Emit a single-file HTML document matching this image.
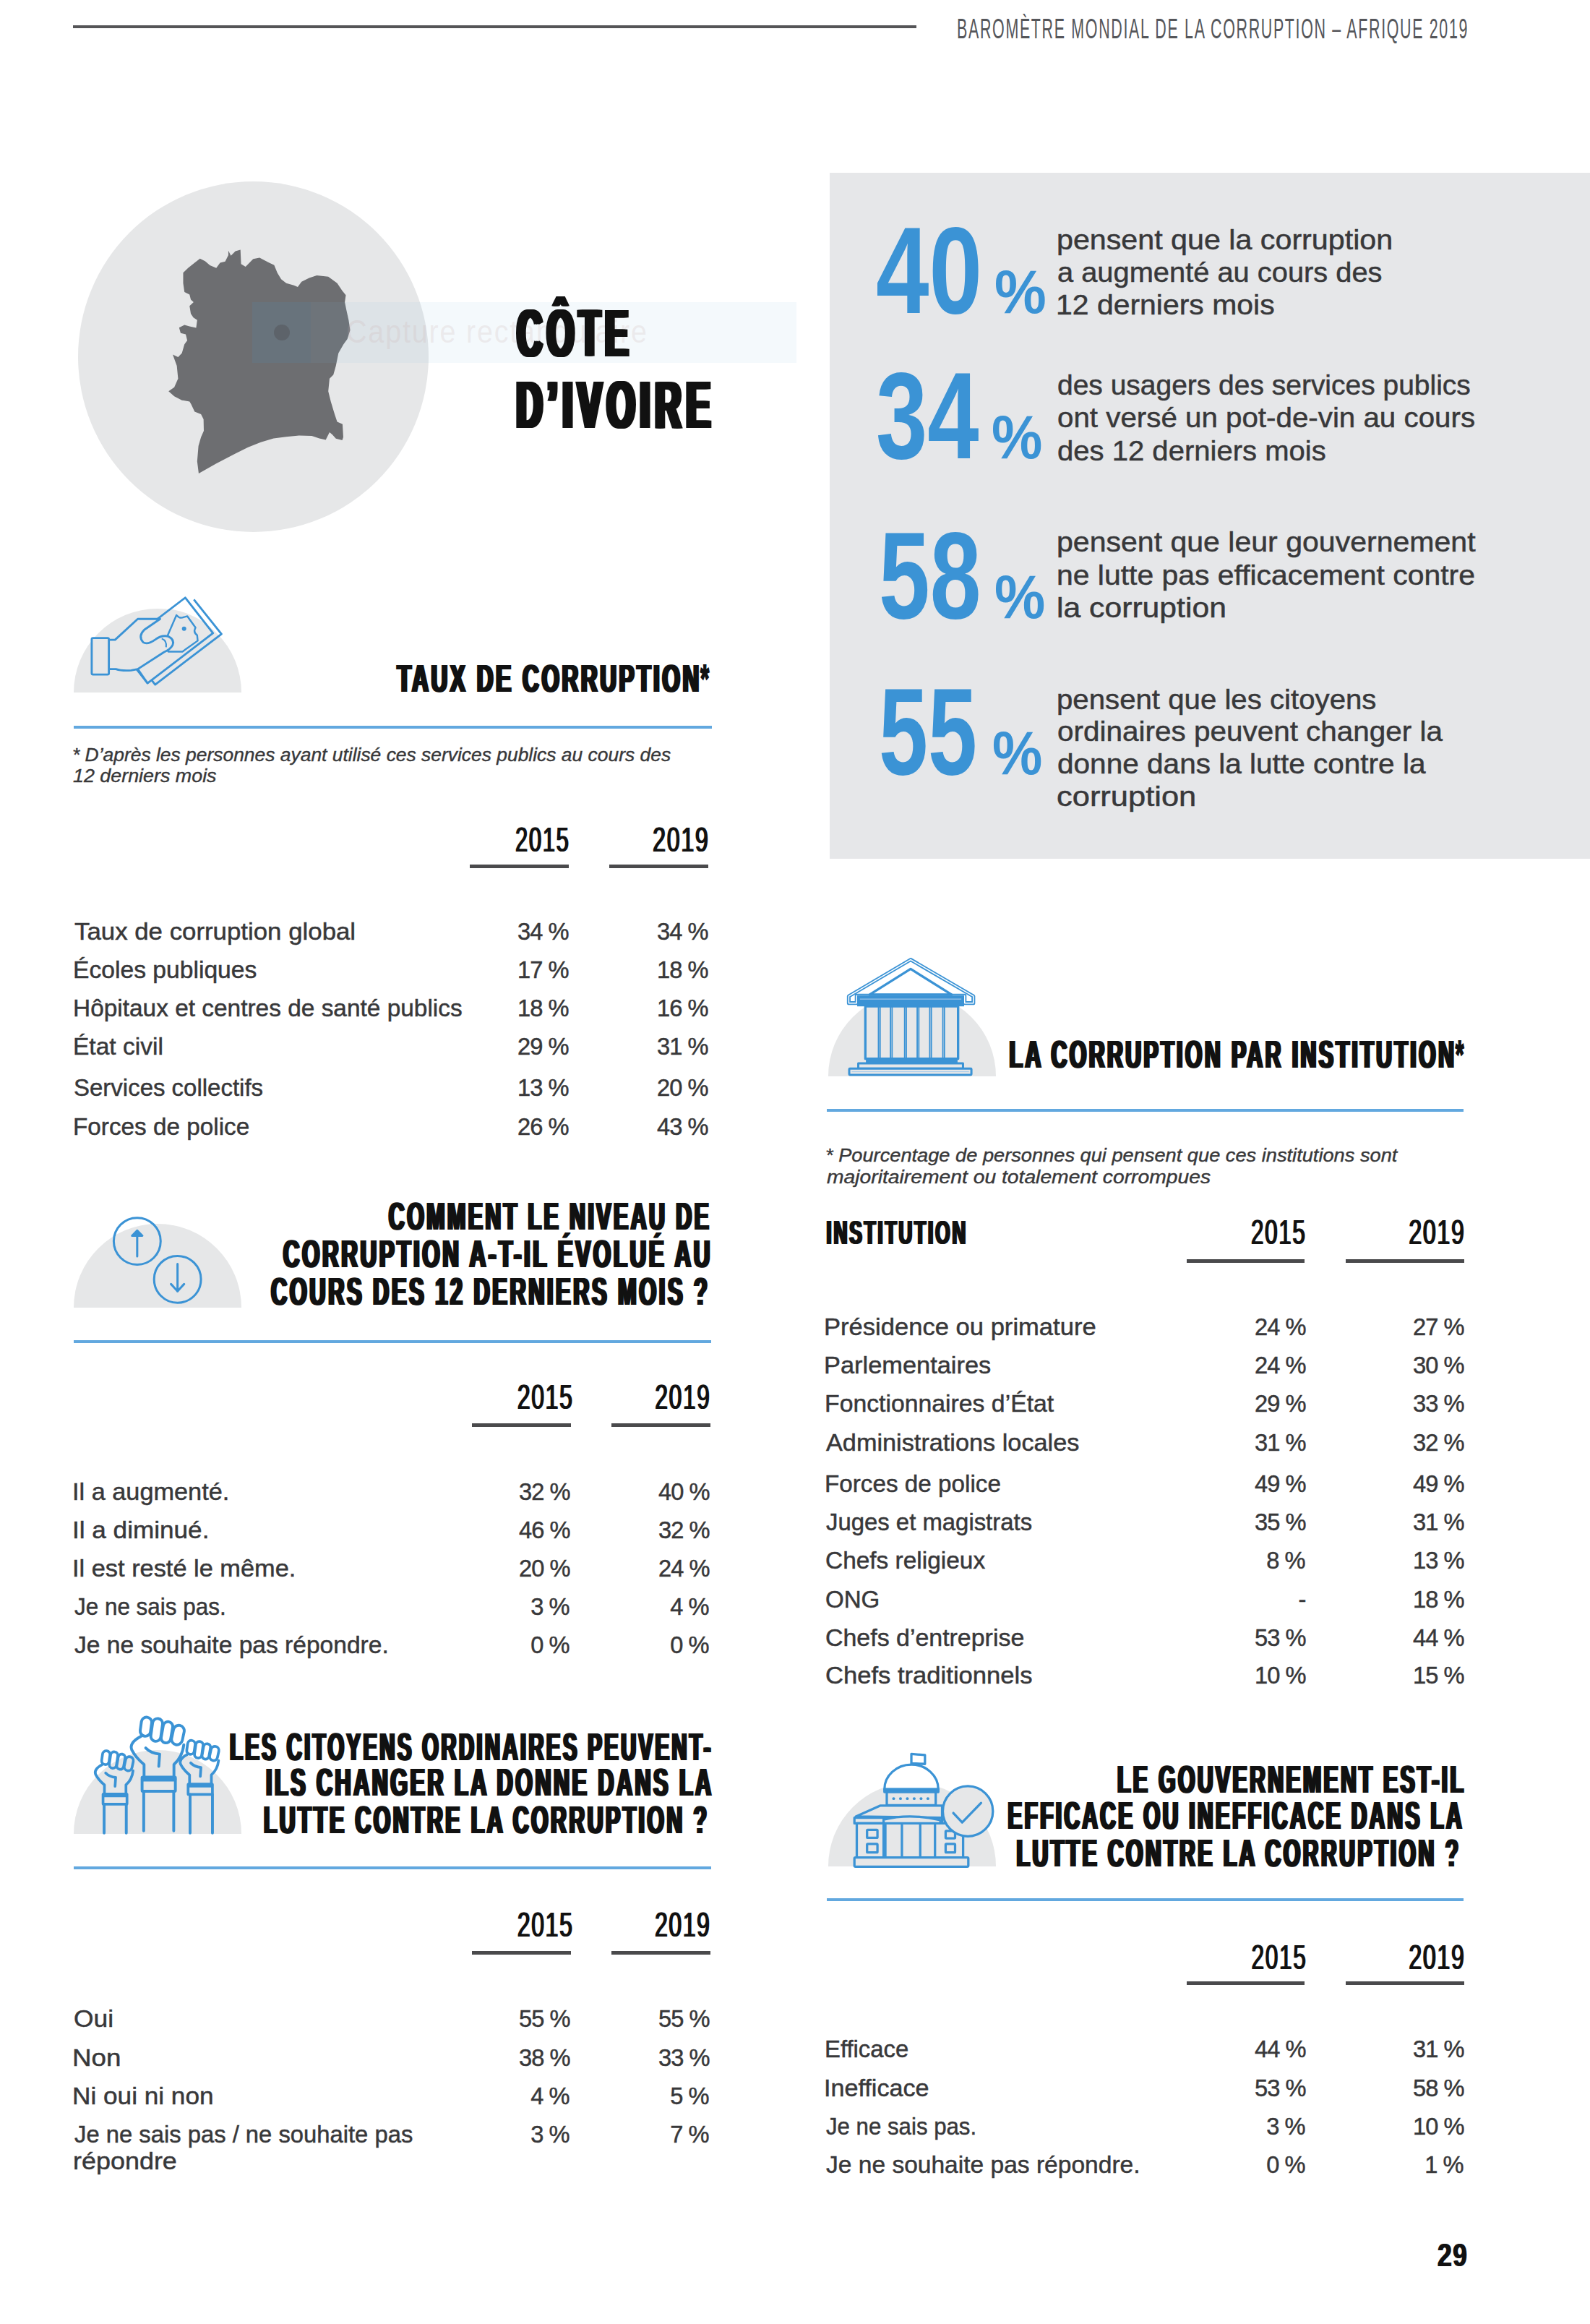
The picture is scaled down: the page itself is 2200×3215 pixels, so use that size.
<!DOCTYPE html>
<html><head><meta charset="utf-8"><style>
*{margin:0;padding:0;box-sizing:border-box}
html,body{width:2200px;height:3215px;background:#fff;overflow:hidden;position:relative}
.t{position:absolute;white-space:nowrap;line-height:0;font-family:"Liberation Sans",sans-serif}
.r{position:absolute}
.hb{font-weight:bold}
.hr{font-weight:normal}
.cond{font-weight:normal}
.body{font-weight:normal;-webkit-text-stroke:0.5px currentColor}
.ast{text-shadow:none;letter-spacing:0;-webkit-text-stroke:2px currentColor}
.it{font-style:italic;-webkit-text-stroke:0.4px currentColor}
svg{position:absolute;overflow:visible}
</style></head>
<body>
<div class="r" style="left:101px;top:34.5px;width:1167px;height:4px;background:#555557;"></div>
<div id="hdr" class="t cond" style="top:39.5px;font-size:39px;left:1324.0px;transform-origin:0 0;transform:scaleX(0.5499);color:#55565a;letter-spacing:3px;">BAROMÈTRE MONDIAL DE LA CORRUPTION – AFRIQUE 2019</div>
<div class="r" style="left:108px;top:251px;width:485px;height:485px;border-radius:50%;background:#e6e7e8"></div>
<svg style="left:220px;top:330px" width="280" height="330" viewBox="0 0 1590 1874"><path fill="#6d6e71" d="M545,95 L565,135 L600,100 L640,88 L645,200 L680,222 L740,160 L790,150 L860,188 L905,208 L930,270 L960,320 L1000,350 L1060,368 L1090,380 L1120,340 L1180,310 L1240,290 L1330,300 L1400,350 L1440,410 L1468,445 L1460,500 L1472,560 L1490,640 L1502,720 L1480,790 L1450,830 L1410,900 L1390,1000 L1370,1070 L1340,1100 L1330,1200 L1350,1280 L1380,1380 L1400,1440 L1442,1458 L1448,1560 L1440,1585 L1390,1572 L1362,1540 L1340,1522 L1310,1582 L1260,1570 L1200,1550 L1100,1548 L1000,1558 L900,1570 L800,1600 L700,1640 L600,1690 L450,1768 L312,1845 L300,1750 L310,1630 L330,1560 L352,1510 L350,1420 L330,1380 L280,1360 L252,1300 L240,1280 L180,1270 L120,1240 L75,1200 L120,1168 L150,1100 L140,1000 L108,912 L150,932 L180,900 L200,830 L222,800 L210,752 L170,742 L158,700 L200,678 L240,690 L292,702 L300,640 L270,620 L250,590 L240,530 L272,500 L250,480 L240,440 L200,420 L190,350 L190,268 L230,230 L280,190 L322,158 L362,178 L400,210 L450,232 L480,190 L520,180 L545,130 Z"/></svg>
<div class="r" style="left:349px;top:418px;width:753px;height:84px;background:rgba(133,182,218,0.085)"></div>
<div class="r" style="left:349px;top:418px;width:81px;height:84px;background:rgba(70,105,140,0.13)"></div>
<div class="r" style="left:379px;top:448.5px;width:22px;height:22px;border-radius:50%;background:rgba(80,80,85,0.45)"></div>
<div class="t" style="left:479px;top:459px;font-size:45px;letter-spacing:2px;transform:scaleX(0.88);transform-origin:0 0;color:rgba(200,170,170,0.2)">Capture rectangulaire</div>

<div id="t1" class="t hb" style="top:460.8px;font-size:93px;left:712.2px;transform-origin:0 0;transform:scaleX(0.5178);color:#111;text-shadow:3.2px 0 0 currentColor,6.5px 0 0 currentColor,9.8px 0 0 currentColor,13.0px 0 0 currentColor;letter-spacing:13.0px;">CÔTE</div>
<div id="t2" class="t hb" style="top:559.8px;font-size:93px;left:711.2px;transform-origin:0 0;transform:scaleX(0.5374);color:#111;text-shadow:3.2px 0 0 currentColor,6.5px 0 0 currentColor,9.8px 0 0 currentColor,13.0px 0 0 currentColor;letter-spacing:13.0px;">D’IVOIRE</div>
<div class="r" style="left:1148px;top:239px;width:1052px;height:949px;background:#e6e7e9;"></div>
<div id="n0" class="t hb" style="top:374.0px;font-size:171px;left:1211.9px;transform-origin:0 0;transform:scaleX(0.7722);color:#3b93d5;">40</div>
<div id="p0" class="t hb" style="top:403.8px;font-size:85px;left:1376.0px;transform-origin:0 0;transform:scaleX(0.9490);color:#3b93d5;">%</div>
<div id="s0_0" class="t body" style="top:332.3px;font-size:38px;left:1462.4px;transform-origin:0 0;transform:scaleX(1.0846);color:#38383a;">pensent que la corruption</div>
<div id="s0_1" class="t body" style="top:377.0px;font-size:38px;left:1463.4px;transform-origin:0 0;transform:scaleX(1.0482);color:#38383a;">a augmenté au cours des</div>
<div id="s0_2" class="t body" style="top:422.3px;font-size:38px;left:1461.4px;transform-origin:0 0;transform:scaleX(1.0774);color:#38383a;">12 derniers mois</div>
<div id="n1" class="t hb" style="top:574.7px;font-size:171px;left:1211.7px;transform-origin:0 0;transform:scaleX(0.7490);color:#3b93d5;">34</div>
<div id="p1" class="t hb" style="top:604.5px;font-size:85px;left:1372.0px;transform-origin:0 0;transform:scaleX(0.9311);color:#3b93d5;">%</div>
<div id="s1_0" class="t body" style="top:533.0px;font-size:38px;left:1463.4px;transform-origin:0 0;transform:scaleX(1.0254);color:#38383a;">des usagers des services publics</div>
<div id="s1_1" class="t body" style="top:578.3px;font-size:38px;left:1463.4px;transform-origin:0 0;transform:scaleX(1.0607);color:#38383a;">ont versé un pot-de-vin au cours</div>
<div id="s1_2" class="t body" style="top:623.5px;font-size:38px;left:1463.4px;transform-origin:0 0;transform:scaleX(1.0539);color:#38383a;">des 12 derniers mois</div>
<div id="n2" class="t hb" style="top:795.7px;font-size:171px;left:1215.6px;transform-origin:0 0;transform:scaleX(0.7428);color:#3b93d5;">58</div>
<div id="p2" class="t hb" style="top:825.5px;font-size:85px;left:1376.2px;transform-origin:0 0;transform:scaleX(0.9299);color:#3b93d5;">%</div>
<div id="s2_0" class="t body" style="top:750.2px;font-size:38px;left:1462.4px;transform-origin:0 0;transform:scaleX(1.0800);color:#38383a;">pensent que leur gouvernement</div>
<div id="s2_1" class="t body" style="top:795.5px;font-size:38px;left:1462.4px;transform-origin:0 0;transform:scaleX(1.0762);color:#38383a;">ne lutte pas efficacement contre</div>
<div id="s2_2" class="t body" style="top:840.8px;font-size:38px;left:1461.5px;transform-origin:0 0;transform:scaleX(1.1235);color:#38383a;">la corruption</div>
<div id="n3" class="t hb" style="top:1012.3px;font-size:171px;left:1215.6px;transform-origin:0 0;transform:scaleX(0.7145);color:#3b93d5;">55</div>
<div id="p3" class="t hb" style="top:1042.1px;font-size:85px;left:1373.1px;transform-origin:0 0;transform:scaleX(0.9171);color:#3b93d5;">%</div>
<div id="s3_0" class="t body" style="top:967.6px;font-size:38px;left:1462.4px;transform-origin:0 0;transform:scaleX(1.0578);color:#38383a;">pensent que les citoyens</div>
<div id="s3_1" class="t body" style="top:1012.3px;font-size:38px;left:1463.4px;transform-origin:0 0;transform:scaleX(1.0647);color:#38383a;">ordinaires peuvent changer la</div>
<div id="s3_2" class="t body" style="top:1056.8px;font-size:38px;left:1463.4px;transform-origin:0 0;transform:scaleX(1.0671);color:#38383a;">donne dans la lutte contre la</div>
<div id="s3_3" class="t body" style="top:1102.3px;font-size:38px;left:1462.4px;transform-origin:0 0;transform:scaleX(1.1437);color:#38383a;">corruption</div>
<div class="r" style="left:102px;top:842px;width:232px;height:116px;border-radius:116px 116px 0 0;background:#e6e7e8"></div>
<svg style="left:100px;top:820px" width="240" height="140" viewBox="0 0 1590 928"><defs><clipPath id="bill1"><path d="M1036,45 L1290,370 L690,830 L435,505 Z"/></clipPath></defs><g fill="none" stroke="#3b93d5" stroke-width="19" stroke-linejoin="round">
<path d="M1115,62 L1368,378 L760,842 L505,520"/>
<path d="M1036,45 L1290,370 L690,830 L435,505 Z" fill="#fff" stroke="none"/>
<g clip-path="url(#bill1)"><circle cx="775" cy="907" r="768" fill="#e6e7e8" stroke="none"/></g>
<path d="M1036,45 L1290,370 L690,830 L435,505 Z"/>
<path d="M955,205 Q985,240 1020,225 L1055,215 L1130,320 Q1105,360 1145,390 L1150,440 L1010,540 L880,540 L840,470 Z" stroke-width="16"/>
<circle cx="1025" cy="330" r="20" fill="#3b93d5" stroke="none"/>
<path d="M335,432 L392,432 L600,240 L805,240 L660,340 Q600,400 650,455 Q690,480 760,430 Q820,385 880,400 Q940,430 920,480 Q900,520 840,545 L600,700 L540,712 Q450,718 400,700 L335,700" fill="#e6e7e8"/>
<path d="M820,420 Q870,440 860,500" stroke-width="14"/>
<rect x="178" y="415" width="157" height="335" rx="12" fill="#e6e7e8"/>
<path d="M600,700 L690,830" />
</g></svg>
<div id="h1_0" class="t hb" style="top:939.0px;font-size:53px;right:1218.7px;transform-origin:100% 0;transform:scaleX(0.5952);color:#111;text-shadow:3.0px 0 0 currentColor,6.0px 0 0 currentColor;letter-spacing:6.0px;">TAUX DE CORRUPTION<span class="ast">*</span></div>
<div class="r" style="left:102px;top:1003.7px;width:883px;height:4px;background:#62a8df;"></div>
<div id="fn1a" class="t it" style="top:1043.5px;font-size:26px;left:100.0px;transform-origin:0 0;transform:scaleX(1.0160);color:#38383a;">* D’après les personnes ayant utilisé ces services publics au cours des</div>
<div id="fn1b" class="t it" style="top:1073.0px;font-size:26px;left:101.0px;transform-origin:0 0;transform:scaleX(1.0330);color:#38383a;">12 derniers mois</div>
<div id="s1y15" class="t hr" style="top:1161.6px;font-size:47.5px;right:1411.9px;transform-origin:100% 0;transform:scaleX(0.6525);color:#111;text-shadow:2.5px 0 0 currentColor;letter-spacing:2.5px;">2015</div>
<div id="s1y19" class="t hr" style="top:1161.6px;font-size:47.5px;right:1218.9px;transform-origin:100% 0;transform:scaleX(0.6776);color:#111;text-shadow:2.5px 0 0 currentColor;letter-spacing:2.5px;">2019</div>
<div class="r" style="left:650px;top:1196.0px;width:136.79999999999995px;height:5px;background:#4a4a4c;"></div>
<div class="r" style="left:843.4px;top:1196.0px;width:136.80000000000007px;height:5px;background:#4a4a4c;"></div>
<div id="s1r0" class="t body" style="top:1287.8px;font-size:34px;left:102.5px;transform-origin:0 0;transform:scaleX(1.0242);color:#38383a;">Taux de corruption global</div>
<div id="s1a0" class="t body" style="top:1287.8px;font-size:34px;right:1414.0px;transform-origin:100% 0;transform:scaleX(0.9600);color:#38383a;letter-spacing:-1px">34 %</div>
<div id="s1b0" class="t body" style="top:1287.8px;font-size:34px;right:1220.4px;transform-origin:100% 0;transform:scaleX(0.9600);color:#38383a;letter-spacing:-1px">34 %</div>
<div id="s1r1" class="t body" style="top:1341.0px;font-size:34px;left:100.5px;transform-origin:0 0;transform:scaleX(0.9894);color:#38383a;">Écoles publiques</div>
<div id="s1a1" class="t body" style="top:1341.0px;font-size:34px;right:1414.0px;transform-origin:100% 0;transform:scaleX(0.9600);color:#38383a;letter-spacing:-1px">17 %</div>
<div id="s1b1" class="t body" style="top:1341.0px;font-size:34px;right:1220.4px;transform-origin:100% 0;transform:scaleX(0.9600);color:#38383a;letter-spacing:-1px">18 %</div>
<div id="s1r2" class="t body" style="top:1394.1px;font-size:34px;left:100.5px;transform-origin:0 0;transform:scaleX(0.9828);color:#38383a;">Hôpitaux et centres de santé publics</div>
<div id="s1a2" class="t body" style="top:1394.1px;font-size:34px;right:1414.0px;transform-origin:100% 0;transform:scaleX(0.9600);color:#38383a;letter-spacing:-1px">18 %</div>
<div id="s1b2" class="t body" style="top:1394.1px;font-size:34px;right:1220.4px;transform-origin:100% 0;transform:scaleX(0.9600);color:#38383a;letter-spacing:-1px">16 %</div>
<div id="s1r3" class="t body" style="top:1446.9px;font-size:34px;left:100.5px;transform-origin:0 0;transform:scaleX(0.9865);color:#38383a;">État civil</div>
<div id="s1a3" class="t body" style="top:1446.9px;font-size:34px;right:1414.0px;transform-origin:100% 0;transform:scaleX(0.9600);color:#38383a;letter-spacing:-1px">29 %</div>
<div id="s1b3" class="t body" style="top:1446.9px;font-size:34px;right:1220.4px;transform-origin:100% 0;transform:scaleX(0.9600);color:#38383a;letter-spacing:-1px">31 %</div>
<div id="s1r4" class="t body" style="top:1504.2px;font-size:34px;left:101.5px;transform-origin:0 0;transform:scaleX(0.9700);color:#38383a;">Services collectifs</div>
<div id="s1a4" class="t body" style="top:1504.2px;font-size:34px;right:1414.0px;transform-origin:100% 0;transform:scaleX(0.9600);color:#38383a;letter-spacing:-1px">13 %</div>
<div id="s1b4" class="t body" style="top:1504.2px;font-size:34px;right:1220.4px;transform-origin:100% 0;transform:scaleX(0.9600);color:#38383a;letter-spacing:-1px">20 %</div>
<div id="s1r5" class="t body" style="top:1558.0px;font-size:34px;left:100.5px;transform-origin:0 0;transform:scaleX(0.9790);color:#38383a;">Forces de police</div>
<div id="s1a5" class="t body" style="top:1558.0px;font-size:34px;right:1414.0px;transform-origin:100% 0;transform:scaleX(0.9600);color:#38383a;letter-spacing:-1px">26 %</div>
<div id="s1b5" class="t body" style="top:1558.0px;font-size:34px;right:1220.4px;transform-origin:100% 0;transform:scaleX(0.9600);color:#38383a;letter-spacing:-1px">43 %</div>
<div class="r" style="left:102px;top:1693px;width:232px;height:116px;border-radius:116px 116px 0 0;background:#e6e7e8"></div>
<svg style="left:100px;top:1670px" width="240" height="140" viewBox="0 0 1590 928"><g fill="none" stroke="#3b93d5" stroke-width="20" stroke-linecap="round" stroke-linejoin="round">
<circle cx="595" cy="312" r="215"/>
<path d="M595,450 L595,235"/>
<path d="M548,262 L595,215 L642,262 Z" fill="#3b93d5"/>
<circle cx="965" cy="662" r="215"/>
<path d="M965,520 L965,770"/>
<path d="M905,705 L965,770 L1025,705"/>
</g></svg>
<div id="h2_0" class="t hb" style="top:1683.1px;font-size:53px;right:1217.5px;transform-origin:100% 0;transform:scaleX(0.5727);color:#111;text-shadow:3.0px 0 0 currentColor,6.0px 0 0 currentColor;letter-spacing:6.0px;">COMMENT LE NIVEAU DE</div>
<div id="h2_1" class="t hb" style="top:1735.4px;font-size:53px;right:1216.3px;transform-origin:100% 0;transform:scaleX(0.5930);color:#111;text-shadow:3.0px 0 0 currentColor,6.0px 0 0 currentColor;letter-spacing:6.0px;">CORRUPTION A-T-IL ÉVOLUÉ AU</div>
<div id="h2_2" class="t hb" style="top:1786.6px;font-size:53px;right:1219.5px;transform-origin:100% 0;transform:scaleX(0.5825);color:#111;text-shadow:3.0px 0 0 currentColor,6.0px 0 0 currentColor;letter-spacing:6.0px;">COURS DES 12 DERNIERS MOIS ?</div>
<div class="r" style="left:102px;top:1854.4px;width:882px;height:4px;background:#62a8df;"></div>
<div id="s2y15" class="t hr" style="top:1932.6px;font-size:47.5px;right:1407.4px;transform-origin:100% 0;transform:scaleX(0.6714);color:#111;text-shadow:2.5px 0 0 currentColor;letter-spacing:2.5px;">2015</div>
<div id="s2y19" class="t hr" style="top:1932.6px;font-size:47.5px;right:1217.0px;transform-origin:100% 0;transform:scaleX(0.6663);color:#111;text-shadow:2.5px 0 0 currentColor;letter-spacing:2.5px;">2019</div>
<div class="r" style="left:653px;top:1969.1px;width:136.60000000000002px;height:5px;background:#4a4a4c;"></div>
<div class="r" style="left:846px;top:1969.1px;width:137.29999999999995px;height:5px;background:#4a4a4c;"></div>
<div id="s2r0" class="t body" style="top:2063.2px;font-size:34px;left:99.5px;transform-origin:0 0;transform:scaleX(1.0083);color:#38383a;">Il a augmenté.</div>
<div id="s2a0" class="t body" style="top:2063.2px;font-size:34px;right:1412.0px;transform-origin:100% 0;transform:scaleX(0.9600);color:#38383a;letter-spacing:-1px">32 %</div>
<div id="s2b0" class="t body" style="top:2063.2px;font-size:34px;right:1219.0px;transform-origin:100% 0;transform:scaleX(0.9600);color:#38383a;letter-spacing:-1px">40 %</div>
<div id="s2r1" class="t body" style="top:2115.7px;font-size:34px;left:99.5px;transform-origin:0 0;transform:scaleX(1.0332);color:#38383a;">Il a diminué.</div>
<div id="s2a1" class="t body" style="top:2115.7px;font-size:34px;right:1412.0px;transform-origin:100% 0;transform:scaleX(0.9600);color:#38383a;letter-spacing:-1px">46 %</div>
<div id="s2b1" class="t body" style="top:2115.7px;font-size:34px;right:1219.0px;transform-origin:100% 0;transform:scaleX(0.9600);color:#38383a;letter-spacing:-1px">32 %</div>
<div id="s2r2" class="t body" style="top:2168.5px;font-size:34px;left:99.5px;transform-origin:0 0;transform:scaleX(1.0108);color:#38383a;">Il est resté le même.</div>
<div id="s2a2" class="t body" style="top:2168.5px;font-size:34px;right:1412.0px;transform-origin:100% 0;transform:scaleX(0.9600);color:#38383a;letter-spacing:-1px">20 %</div>
<div id="s2b2" class="t body" style="top:2168.5px;font-size:34px;right:1219.0px;transform-origin:100% 0;transform:scaleX(0.9600);color:#38383a;letter-spacing:-1px">24 %</div>
<div id="s2r3" class="t body" style="top:2222.2px;font-size:34px;left:102.5px;transform-origin:0 0;transform:scaleX(0.9243);color:#38383a;">Je ne sais pas.</div>
<div id="s2a3" class="t body" style="top:2222.2px;font-size:34px;right:1412.0px;transform-origin:100% 0;transform:scaleX(0.9600);color:#38383a;letter-spacing:-1px">3 %</div>
<div id="s2b3" class="t body" style="top:2222.2px;font-size:34px;right:1219.0px;transform-origin:100% 0;transform:scaleX(0.9600);color:#38383a;letter-spacing:-1px">4 %</div>
<div id="s2r4" class="t body" style="top:2275.2px;font-size:34px;left:102.5px;transform-origin:0 0;transform:scaleX(0.9871);color:#38383a;">Je ne souhaite pas répondre.</div>
<div id="s2a4" class="t body" style="top:2275.2px;font-size:34px;right:1412.0px;transform-origin:100% 0;transform:scaleX(0.9600);color:#38383a;letter-spacing:-1px">0 %</div>
<div id="s2b4" class="t body" style="top:2275.2px;font-size:34px;right:1219.0px;transform-origin:100% 0;transform:scaleX(0.9600);color:#38383a;letter-spacing:-1px">0 %</div>
<div class="r" style="left:102px;top:2421px;width:232px;height:116px;border-radius:116px 116px 0 0;background:#e6e7e8"></div>
<svg style="left:100px;top:2370px" width="240" height="180" viewBox="0 0 1590 1192"><defs><g id="fist"><rect x="628" y="36" width="95" height="175" rx="47" transform="rotate(8 675 123)"/>
<rect x="728" y="48" width="92" height="210" rx="46" transform="rotate(8 774 153)"/>
<rect x="824" y="77" width="88" height="196" rx="44" transform="rotate(10 868 175)"/>
<rect x="918" y="110" width="100" height="180" rx="50" transform="rotate(12 968 200)"/>
<path d="M630,212 Q520,270 545,335 Q580,405 658,470 L658,585"/>
<path d="M1022,290 Q1010,400 932,470 L932,585"/>
<path d="M673,319 Q720,368 801,375 L793,487"/>
<rect x="640" y="585" width="305" height="130" rx="6"/>
<path d="M650,605 L935,605" stroke-width="42"/></g></defs><g fill="none" stroke="#3b93d5" stroke-width="26" stroke-linecap="round" stroke-linejoin="round">
<use href="#fist"/>
<path d="M655,715 L655,1078 M930,715 L930,1078"/>
<g transform="translate(282 740) scale(0.72) translate(-640 -585)" stroke-width="34"><use href="#fist"/></g>
<path d="M292,835 L292,1098 M495,835 L495,1098"/>
<g transform="translate(1062 650) scale(0.73) translate(-640 -585)" stroke-width="34"><use href="#fist"/></g>
<path d="M1080,745 L1080,1098 M1285,745 L1285,1098"/>
</g></svg>
<div id="h3_0" class="t hb" style="top:2416.6px;font-size:53px;right:1214.8px;transform-origin:100% 0;transform:scaleX(0.5540);color:#111;text-shadow:3.0px 0 0 currentColor,6.0px 0 0 currentColor;letter-spacing:6.0px;">LES CITOYENS ORDINAIRES PEUVENT-</div>
<div id="h3_1" class="t hb" style="top:2466.4px;font-size:53px;right:1214.2px;transform-origin:100% 0;transform:scaleX(0.5775);color:#111;text-shadow:3.0px 0 0 currentColor,6.0px 0 0 currentColor;letter-spacing:6.0px;">ILS CHANGER LA DONNE DANS LA</div>
<div id="h3_2" class="t hb" style="top:2517.9px;font-size:53px;right:1220.2px;transform-origin:100% 0;transform:scaleX(0.5716);color:#111;text-shadow:3.0px 0 0 currentColor,6.0px 0 0 currentColor;letter-spacing:6.0px;">LUTTE CONTRE LA CORRUPTION ?</div>
<div class="r" style="left:102px;top:2582.2px;width:882px;height:4px;background:#62a8df;"></div>
<div id="s3y15" class="t hr" style="top:2662.9px;font-size:47.5px;right:1407.4px;transform-origin:100% 0;transform:scaleX(0.6714);color:#111;text-shadow:2.5px 0 0 currentColor;letter-spacing:2.5px;">2015</div>
<div id="s3y19" class="t hr" style="top:2662.9px;font-size:47.5px;right:1217.0px;transform-origin:100% 0;transform:scaleX(0.6691);color:#111;text-shadow:2.5px 0 0 currentColor;letter-spacing:2.5px;">2019</div>
<div class="r" style="left:653px;top:2698.9px;width:136.60000000000002px;height:5px;background:#4a4a4c;"></div>
<div class="r" style="left:846.2px;top:2698.9px;width:136.79999999999995px;height:5px;background:#4a4a4c;"></div>
<div id="s3r0" class="t body" style="top:2792.2px;font-size:34px;left:101.5px;transform-origin:0 0;transform:scaleX(1.0395);color:#38383a;">Oui</div>
<div id="s3a0" class="t body" style="top:2792.2px;font-size:34px;right:1412.0px;transform-origin:100% 0;transform:scaleX(0.9600);color:#38383a;letter-spacing:-1px">55 %</div>
<div id="s3b0" class="t body" style="top:2792.2px;font-size:34px;right:1219.0px;transform-origin:100% 0;transform:scaleX(0.9600);color:#38383a;letter-spacing:-1px">55 %</div>
<div id="s3r1" class="t body" style="top:2845.7px;font-size:34px;left:99.5px;transform-origin:0 0;transform:scaleX(1.0806);color:#38383a;">Non</div>
<div id="s3a1" class="t body" style="top:2845.7px;font-size:34px;right:1412.0px;transform-origin:100% 0;transform:scaleX(0.9600);color:#38383a;letter-spacing:-1px">38 %</div>
<div id="s3b1" class="t body" style="top:2845.7px;font-size:34px;right:1219.0px;transform-origin:100% 0;transform:scaleX(0.9600);color:#38383a;letter-spacing:-1px">33 %</div>
<div id="s3r2" class="t body" style="top:2898.9px;font-size:34px;left:99.5px;transform-origin:0 0;transform:scaleX(1.0347);color:#38383a;">Ni oui ni non</div>
<div id="s3a2" class="t body" style="top:2898.9px;font-size:34px;right:1412.0px;transform-origin:100% 0;transform:scaleX(0.9600);color:#38383a;letter-spacing:-1px">4 %</div>
<div id="s3b2" class="t body" style="top:2898.9px;font-size:34px;right:1219.0px;transform-origin:100% 0;transform:scaleX(0.9600);color:#38383a;letter-spacing:-1px">5 %</div>
<div id="s3r3" class="t body" style="top:2952.2px;font-size:34px;left:102.5px;transform-origin:0 0;transform:scaleX(0.9640);color:#38383a;">Je ne sais pas / ne souhaite pas</div>
<div id="s3a3" class="t body" style="top:2952.2px;font-size:34px;right:1412.0px;transform-origin:100% 0;transform:scaleX(0.9600);color:#38383a;letter-spacing:-1px">3 %</div>
<div id="s3b3" class="t body" style="top:2952.2px;font-size:34px;right:1219.0px;transform-origin:100% 0;transform:scaleX(0.9600);color:#38383a;letter-spacing:-1px">7 %</div>
<div id="s3r4" class="t body" style="top:2988.6px;font-size:34px;left:100.5px;transform-origin:0 0;transform:scaleX(1.0568);color:#38383a;">répondre</div>
<div class="r" style="left:1146px;top:1373px;width:232px;height:116px;border-radius:116px 116px 0 0;background:#e6e7e8"></div>
<svg style="left:1140px;top:1320px" width="240" height="180" viewBox="0 0 1590 1192"><g fill="none" stroke="#3b93d5" stroke-width="26" stroke-linejoin="round">
<path d="M795,50 L1370,385 L1370,448 L1290,448 L1290,380 L300,380 L300,448 L228,448 L228,385 Z" fill="#fff" stroke-width="34"/>
<path d="M795,50 L1370,385 L1370,448 L1290,448 L1290,380 L300,380 L300,448 L228,448 L228,385 Z" stroke="#fff" stroke-width="10"/>
<path d="M795,135 L1170,370 L420,370 Z" stroke-width="22"/>
<rect x="305" y="378" width="980" height="100" fill="#3b93d5" stroke="none"/>
<path d="M330,412 L1260,412" stroke="#9cc6ea" stroke-width="8"/>
<rect x="380" y="478" width="850" height="480" fill="#e6e7e8" stroke-width="22"/>
<path d="M500,478 V958 M515,478 V958 M610,478 V958 M625,478 V958 M740,478 V958 M755,478 V958 M855,478 V958 M870,478 V958 M970,478 V958 M985,478 V958 M1090,478 V958 M1105,478 V958" stroke-width="12"/>
<rect x="385" y="958" width="840" height="40" fill="#3b93d5" stroke="none"/>
<rect x="315" y="1000" width="960" height="48" fill="#e6e7e8" stroke-width="20"/>
<rect x="232" y="1048" width="1120" height="58" rx="6" fill="#e6e7e8" stroke-width="20"/>
<path d="M255,1077 L1330,1077" stroke="#9cc6ea" stroke-width="6"/>
</g></svg>
<div id="h4_0" class="t hb" style="top:1458.9px;font-size:53px;right:174.6px;transform-origin:100% 0;transform:scaleX(0.5710);color:#111;text-shadow:3.0px 0 0 currentColor,6.0px 0 0 currentColor;letter-spacing:6.0px;">LA CORRUPTION PAR INSTITUTION<span class="ast">*</span></div>
<div class="r" style="left:1143.5px;top:1533.7px;width:881px;height:4px;background:#62a8df;"></div>
<div id="fn2a" class="t it" style="top:1598.0px;font-size:26px;left:1142.0px;transform-origin:0 0;transform:scaleX(1.0468);color:#38383a;">* Pourcentage de personnes qui pensent que ces institutions sont</div>
<div id="fn2b" class="t it" style="top:1628.0px;font-size:26px;left:1144.0px;transform-origin:0 0;transform:scaleX(1.0873);color:#38383a;">majoritairement ou totalement corrompues</div>
<div id="inst" class="t hb" style="top:1704.9px;font-size:46.5px;left:1141.5px;transform-origin:0 0;transform:scaleX(0.5641);color:#111;text-shadow:2.5px 0 0 currentColor,5.0px 0 0 currentColor;letter-spacing:5.0px;">INSTITUTION</div>
<div id="s4y15" class="t hr" style="top:1705.2px;font-size:47.5px;right:393.0px;transform-origin:100% 0;transform:scaleX(0.6616);color:#111;text-shadow:2.5px 0 0 currentColor;letter-spacing:2.5px;">2015</div>
<div id="s4y19" class="t hr" style="top:1705.2px;font-size:47.5px;right:173.4px;transform-origin:100% 0;transform:scaleX(0.6754);color:#111;text-shadow:2.5px 0 0 currentColor;letter-spacing:2.5px;">2019</div>
<div class="r" style="left:1642.3px;top:1741.5px;width:163.20000000000005px;height:5px;background:#4a4a4c;"></div>
<div class="r" style="left:1861.9px;top:1741.5px;width:164.0999999999999px;height:5px;background:#4a4a4c;"></div>
<div id="s4r0" class="t body" style="top:1835.0px;font-size:34px;left:1140.3px;transform-origin:0 0;transform:scaleX(1.0169);color:#38383a;">Présidence ou primature</div>
<div id="s4a0" class="t body" style="top:1835.0px;font-size:34px;right:394.0px;transform-origin:100% 0;transform:scaleX(0.9600);color:#38383a;letter-spacing:-1px">24 %</div>
<div id="s4b0" class="t body" style="top:1835.0px;font-size:34px;right:175.0px;transform-origin:100% 0;transform:scaleX(0.9600);color:#38383a;letter-spacing:-1px">27 %</div>
<div id="s4r1" class="t body" style="top:1888.2px;font-size:34px;left:1140.3px;transform-origin:0 0;transform:scaleX(1.0112);color:#38383a;">Parlementaires</div>
<div id="s4a1" class="t body" style="top:1888.2px;font-size:34px;right:394.0px;transform-origin:100% 0;transform:scaleX(0.9600);color:#38383a;letter-spacing:-1px">24 %</div>
<div id="s4b1" class="t body" style="top:1888.2px;font-size:34px;right:175.0px;transform-origin:100% 0;transform:scaleX(0.9600);color:#38383a;letter-spacing:-1px">30 %</div>
<div id="s4r2" class="t body" style="top:1941.2px;font-size:34px;left:1141.3px;transform-origin:0 0;transform:scaleX(0.9931);color:#38383a;">Fonctionnaires d’État</div>
<div id="s4a2" class="t body" style="top:1941.2px;font-size:34px;right:394.0px;transform-origin:100% 0;transform:scaleX(0.9600);color:#38383a;letter-spacing:-1px">29 %</div>
<div id="s4b2" class="t body" style="top:1941.2px;font-size:34px;right:175.0px;transform-origin:100% 0;transform:scaleX(0.9600);color:#38383a;letter-spacing:-1px">33 %</div>
<div id="s4r3" class="t body" style="top:1994.6px;font-size:34px;left:1143.3px;transform-origin:0 0;transform:scaleX(1.0077);color:#38383a;">Administrations locales</div>
<div id="s4a3" class="t body" style="top:1994.6px;font-size:34px;right:394.0px;transform-origin:100% 0;transform:scaleX(0.9600);color:#38383a;letter-spacing:-1px">31 %</div>
<div id="s4b3" class="t body" style="top:1994.6px;font-size:34px;right:175.0px;transform-origin:100% 0;transform:scaleX(0.9600);color:#38383a;letter-spacing:-1px">32 %</div>
<div id="s4r4" class="t body" style="top:2052.0px;font-size:34px;left:1141.3px;transform-origin:0 0;transform:scaleX(0.9777);color:#38383a;">Forces de police</div>
<div id="s4a4" class="t body" style="top:2052.0px;font-size:34px;right:394.0px;transform-origin:100% 0;transform:scaleX(0.9600);color:#38383a;letter-spacing:-1px">49 %</div>
<div id="s4b4" class="t body" style="top:2052.0px;font-size:34px;right:175.0px;transform-origin:100% 0;transform:scaleX(0.9600);color:#38383a;letter-spacing:-1px">49 %</div>
<div id="s4r5" class="t body" style="top:2105.2px;font-size:34px;left:1143.3px;transform-origin:0 0;transform:scaleX(0.9670);color:#38383a;">Juges et magistrats</div>
<div id="s4a5" class="t body" style="top:2105.2px;font-size:34px;right:394.0px;transform-origin:100% 0;transform:scaleX(0.9600);color:#38383a;letter-spacing:-1px">35 %</div>
<div id="s4b5" class="t body" style="top:2105.2px;font-size:34px;right:175.0px;transform-origin:100% 0;transform:scaleX(0.9600);color:#38383a;letter-spacing:-1px">31 %</div>
<div id="s4r6" class="t body" style="top:2158.2px;font-size:34px;left:1142.3px;transform-origin:0 0;transform:scaleX(0.9832);color:#38383a;">Chefs religieux</div>
<div id="s4a6" class="t body" style="top:2158.2px;font-size:34px;right:394.0px;transform-origin:100% 0;transform:scaleX(0.9600);color:#38383a;letter-spacing:-1px">8 %</div>
<div id="s4b6" class="t body" style="top:2158.2px;font-size:34px;right:175.0px;transform-origin:100% 0;transform:scaleX(0.9600);color:#38383a;letter-spacing:-1px">13 %</div>
<div id="s4r7" class="t body" style="top:2211.6px;font-size:34px;left:1142.3px;transform-origin:0 0;transform:scaleX(0.9727);color:#38383a;">ONG</div>
<div id="s4a7" class="t body" style="top:2211.6px;font-size:34px;right:394.0px;transform-origin:100% 0;transform:scaleX(0.9600);color:#38383a;letter-spacing:-1px">-</div>
<div id="s4b7" class="t body" style="top:2211.6px;font-size:34px;right:175.0px;transform-origin:100% 0;transform:scaleX(0.9600);color:#38383a;letter-spacing:-1px">18 %</div>
<div id="s4r8" class="t body" style="top:2264.8px;font-size:34px;left:1142.3px;transform-origin:0 0;transform:scaleX(0.9976);color:#38383a;">Chefs d’entreprise</div>
<div id="s4a8" class="t body" style="top:2264.8px;font-size:34px;right:394.0px;transform-origin:100% 0;transform:scaleX(0.9600);color:#38383a;letter-spacing:-1px">53 %</div>
<div id="s4b8" class="t body" style="top:2264.8px;font-size:34px;right:175.0px;transform-origin:100% 0;transform:scaleX(0.9600);color:#38383a;letter-spacing:-1px">44 %</div>
<div id="s4r9" class="t body" style="top:2317.4px;font-size:34px;left:1142.3px;transform-origin:0 0;transform:scaleX(1.0174);color:#38383a;">Chefs traditionnels</div>
<div id="s4a9" class="t body" style="top:2317.4px;font-size:34px;right:394.0px;transform-origin:100% 0;transform:scaleX(0.9600);color:#38383a;letter-spacing:-1px">10 %</div>
<div id="s4b9" class="t body" style="top:2317.4px;font-size:34px;right:175.0px;transform-origin:100% 0;transform:scaleX(0.9600);color:#38383a;letter-spacing:-1px">15 %</div>
<div class="r" style="left:1146px;top:2466px;width:232px;height:116px;border-radius:116px 116px 0 0;background:#e6e7e8"></div>
<svg style="left:1140px;top:2410px" width="260" height="180" viewBox="0 0 1590 1101"><g fill="none" stroke="#3b93d5" stroke-width="20" stroke-linejoin="round" stroke-linecap="round">
<path d="M740,200 L740,100 L855,110 L855,185 L745,180"/>
<path d="M512,400 A228,210 0 0 1 968,400 Z" fill="#fff"/>
<rect x="512" y="398" width="456" height="24" fill="#3b93d5"/>
<rect x="532" y="422" width="414" height="112" fill="#e6e7e8"/>
<g fill="#3b93d5" stroke="none"><circle cx="590" cy="478" r="12"/><circle cx="648" cy="478" r="12"/><circle cx="706" cy="478" r="12"/><circle cx="764" cy="478" r="12"/><circle cx="822" cy="478" r="12"/><circle cx="880" cy="478" r="12"/></g>
<path d="M270,630 L475,538 L1000,538 L1000,640 Z" fill="#e6e7e8"/>
<rect x="258" y="640" width="742" height="48" fill="#e6e7e8"/>
<path d="M505,655 Q730,600 985,660 L985,700 L505,700 Z" fill="#e6e7e8"/>
<rect x="278" y="688" width="900" height="288" fill="#e6e7e8"/>
<path d="M520,700 V976 M660,700 V976 M815,700 V976 M940,700 V976 M505,700 V976"/>
<rect x="365" y="742" width="88" height="68" rx="6"/>
<rect x="365" y="862" width="88" height="72" rx="6"/>
<rect x="1030" y="752" width="80" height="62" rx="6"/>
<rect x="1030" y="862" width="80" height="72" rx="6"/>
<rect x="258" y="976" width="964" height="78" rx="10" fill="#e6e7e8"/>
<circle cx="1218" cy="585" r="212" fill="#e6e7e8"/>
<path d="M1095,600 L1170,680 L1330,515"/>
</g></svg>
<div id="h5_0" class="t hb" style="top:2462.2px;font-size:53px;right:173.7px;transform-origin:100% 0;transform:scaleX(0.5691);color:#111;text-shadow:3.0px 0 0 currentColor,6.0px 0 0 currentColor;letter-spacing:6.0px;">LE GOUVERNEMENT EST-IL</div>
<div id="h5_1" class="t hb" style="top:2511.6px;font-size:53px;right:175.9px;transform-origin:100% 0;transform:scaleX(0.5628);color:#111;text-shadow:3.0px 0 0 currentColor,6.0px 0 0 currentColor;letter-spacing:6.0px;">EFFICACE OU INEFFICACE DANS LA</div>
<div id="h5_2" class="t hb" style="top:2563.6px;font-size:53px;right:180.4px;transform-origin:100% 0;transform:scaleX(0.5700);color:#111;text-shadow:3.0px 0 0 currentColor,6.0px 0 0 currentColor;letter-spacing:6.0px;">LUTTE CONTRE LA CORRUPTION ?</div>
<div class="r" style="left:1143.5px;top:2626.1px;width:881px;height:4px;background:#62a8df;"></div>
<div id="s5y15" class="t hr" style="top:2708.4px;font-size:47.5px;right:392.0px;transform-origin:100% 0;transform:scaleX(0.6660);color:#111;text-shadow:2.5px 0 0 currentColor;letter-spacing:2.5px;">2015</div>
<div id="s5y19" class="t hr" style="top:2708.4px;font-size:47.5px;right:173.4px;transform-origin:100% 0;transform:scaleX(0.6754);color:#111;text-shadow:2.5px 0 0 currentColor;letter-spacing:2.5px;">2019</div>
<div class="r" style="left:1642.3px;top:2741.3px;width:163.20000000000005px;height:5px;background:#4a4a4c;"></div>
<div class="r" style="left:1861.9px;top:2741.3px;width:164.0999999999999px;height:5px;background:#4a4a4c;"></div>
<div id="s5r0" class="t body" style="top:2834.2px;font-size:34px;left:1141.3px;transform-origin:0 0;transform:scaleX(0.9661);color:#38383a;">Efficace</div>
<div id="s5a0" class="t body" style="top:2834.2px;font-size:34px;right:394.0px;transform-origin:100% 0;transform:scaleX(0.9600);color:#38383a;letter-spacing:-1px">44 %</div>
<div id="s5b0" class="t body" style="top:2834.2px;font-size:34px;right:175.0px;transform-origin:100% 0;transform:scaleX(0.9600);color:#38383a;letter-spacing:-1px">31 %</div>
<div id="s5r1" class="t body" style="top:2887.6px;font-size:34px;left:1140.3px;transform-origin:0 0;transform:scaleX(1.0045);color:#38383a;">Inefficace</div>
<div id="s5a1" class="t body" style="top:2887.6px;font-size:34px;right:394.0px;transform-origin:100% 0;transform:scaleX(0.9600);color:#38383a;letter-spacing:-1px">53 %</div>
<div id="s5b1" class="t body" style="top:2887.6px;font-size:34px;right:175.0px;transform-origin:100% 0;transform:scaleX(0.9600);color:#38383a;letter-spacing:-1px">58 %</div>
<div id="s5r2" class="t body" style="top:2940.8px;font-size:34px;left:1143.3px;transform-origin:0 0;transform:scaleX(0.9177);color:#38383a;">Je ne sais pas.</div>
<div id="s5a2" class="t body" style="top:2940.8px;font-size:34px;right:394.0px;transform-origin:100% 0;transform:scaleX(0.9600);color:#38383a;letter-spacing:-1px">3 %</div>
<div id="s5b2" class="t body" style="top:2940.8px;font-size:34px;right:175.0px;transform-origin:100% 0;transform:scaleX(0.9600);color:#38383a;letter-spacing:-1px">10 %</div>
<div id="s5r3" class="t body" style="top:2994.0px;font-size:34px;left:1143.3px;transform-origin:0 0;transform:scaleX(0.9866);color:#38383a;">Je ne souhaite pas répondre.</div>
<div id="s5a3" class="t body" style="top:2994.0px;font-size:34px;right:394.0px;transform-origin:100% 0;transform:scaleX(0.9600);color:#38383a;letter-spacing:-1px">0 %</div>
<div id="s5b3" class="t body" style="top:2994.0px;font-size:34px;right:175.0px;transform-origin:100% 0;transform:scaleX(0.9600);color:#38383a;letter-spacing:-1px">1 %</div>
<div id="pg" class="t hb" style="top:3119.6px;font-size:44.5px;right:169.1px;transform-origin:100% 0;transform:scaleX(0.7887);color:#111;text-shadow:2.0px 0 0 currentColor;letter-spacing:2.0px;">29</div>
</body></html>
